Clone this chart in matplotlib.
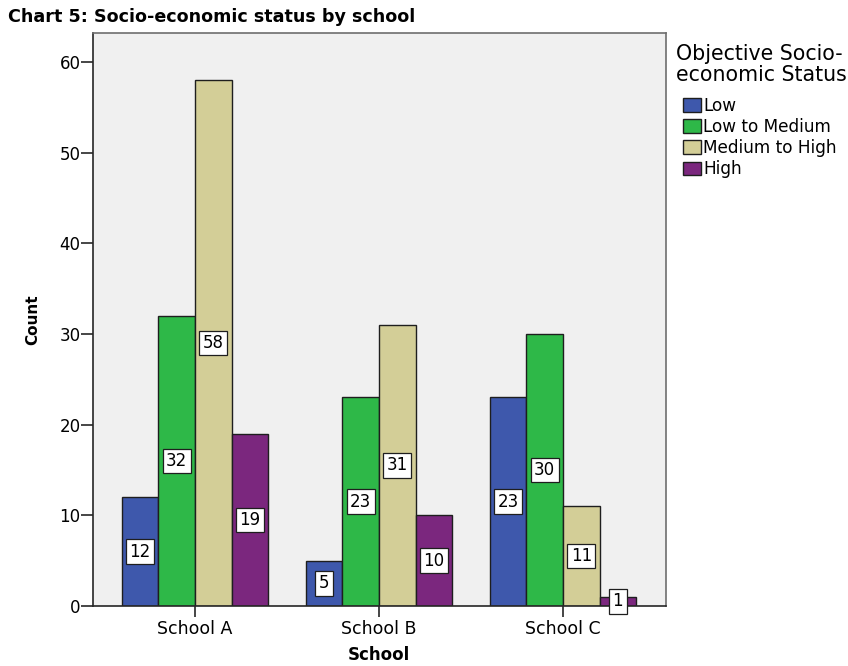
import matplotlib
matplotlib.use("Agg")
import matplotlib.pyplot as plt
import numpy as np

plt.rcParams['font.family'] = ['DejaVu Sans']

schools = ["School A", "School B", "School C"]
statuses = ["Low", "Low to Medium", "Medium to High", "High"]
low = [12, 5, 23]
low_med = [32, 23, 30]
med_high = [58, 31, 11]
high = [19, 10, 1]
series = [low, low_med, med_high, high]
colors = ["#3e58ac", "#2eb848", "#d3ce97", "#7b277e"]
yticks = [0, 10, 20, 30, 40, 50, 60]

fig = plt.figure(figsize=(8.48, 6.66), dpi=100)
ax = fig.add_axes([93/848, 60/666, (666-93)/848, (606-33)/666])
ax.set_facecolor("#f0f0f0")

x = np.arange(len(schools))
w = 0.199
for i, (vals, c, name) in enumerate(zip(series, colors, statuses)):
    pos = x + (i - 1.5) * w
    ax.bar(pos, vals, width=w, color=c, edgecolor="#1e1e1e", linewidth=1.0, label=name, zorder=2)
    for px, v in zip(pos, vals):
        ax.text(px, v / 2, str(v), ha="center", va="center", fontsize=12, zorder=4,
                bbox=dict(boxstyle="square,pad=0.2", facecolor="white", edgecolor="#1e1e1e", linewidth=0.9),
                clip_on=False)

ax.set_xlim(-0.554, 2.56)
ax.set_ylim(0, 63.2)
ax.set_xticks(x)
ax.set_xticklabels(schools, fontsize=12.5)
ax.set_yticks(yticks)
ax.set_yticklabels([str(t) for t in yticks], fontsize=12)
ax.tick_params(axis="y", direction="out", length=8.5, width=1.2, color="#262626", pad=0.5)
ax.tick_params(axis="x", direction="out", length=8, width=1.2, color="#262626", pad=2)
for s in ["left", "bottom"]:
    ax.spines[s].set_color("#262626")
    ax.spines[s].set_linewidth(1.2)
for s in ["top", "right"]:
    ax.spines[s].set_color("#6e6e6e")
    ax.spines[s].set_linewidth(1.2)

ax.set_ylabel("Count", fontsize=11, fontweight="bold", labelpad=14)
fig.text(379/848, 1 - 655/666, "School", fontsize=12, fontweight="bold",
         ha="center", va="center")

fig.text(8/848, 1 - 17/666, "Chart 5: Socio-economic status by school", fontsize=12.6,
         fontweight="bold", ha="left", va="center")

fig.text(676/848, 1 - 44/666, "Objective Socio-\neconomic Status", fontsize=14.8,
         ha="left", va="top", linespacing=1.05)

leg = fig.legend(loc="upper left", bbox_to_anchor=(683/848, 1 - 97/666), frameon=False,
                 fontsize=12.2, handlelength=1.05, handleheight=0.85, handletextpad=0.15,
                 labelspacing=0.18, borderaxespad=0, borderpad=0)
for h in leg.legend_handles:
    h.set_edgecolor("#1e1e1e")

fig.savefig("out.png", dpi=100)
